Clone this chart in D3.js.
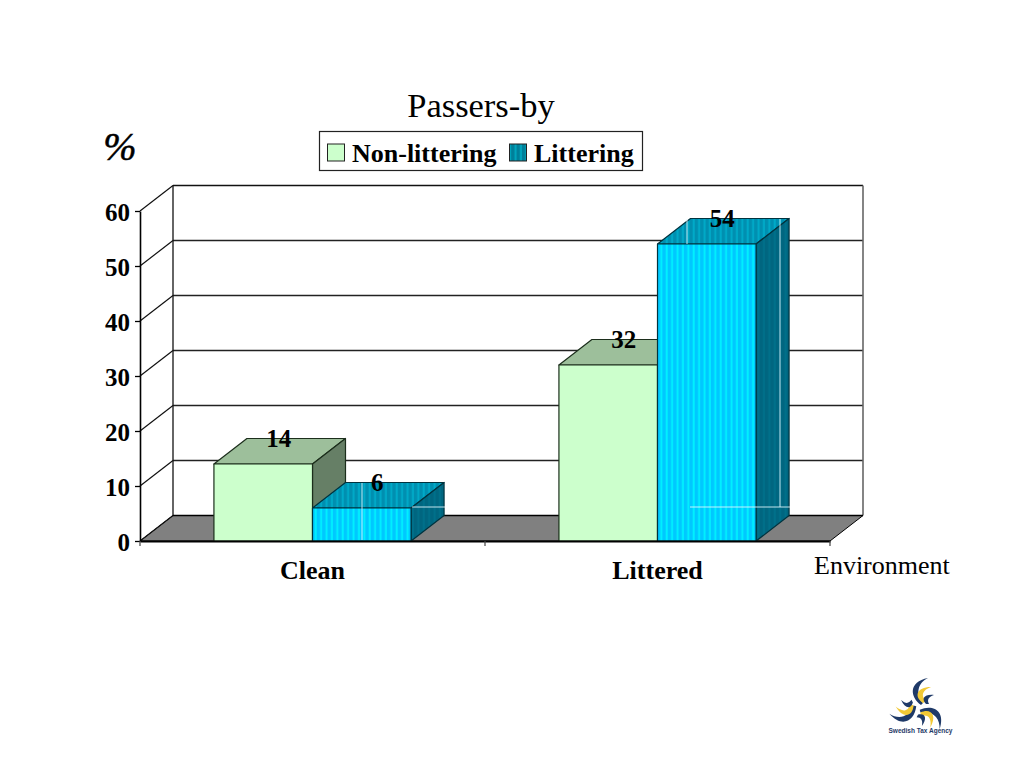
<!DOCTYPE html>
<html>
<head>
<meta charset="utf-8">
<script src="https://cdn.jsdelivr.net/npm/d3@7"></script>
<style>
  html, body { margin: 0; padding: 0; background: #fff; }
  svg { display: block; }
  text { font-family: "Liberation Serif", serif; fill: #000; }
  .axis path, .axis line { stroke: #000; }
</style>
</head>
<body>
<div id="chart"></div>
<script>
// data
var categories = ['Clean', 'Littered'];
var seriesNames = ['Non-littering', 'Littering'];
var nonLittering = [14, 32];
var littering = [6, 54];
var yTicks = [0, 10, 20, 30, 40, 50, 60];

var svgWidth = 1024, svgHeight = 768;
var plotLeft = 140, plotRight = 830, plotBottom = 541, plotTop = 211;
var depthX = 33, depthY = 25.5;   // 3d offset of the back wall

var svg = d3.select('#chart').append('svg')
  .attr('width', svgWidth)
  .attr('height', svgHeight);

var x0 = d3.scaleBand().domain(categories).range([plotLeft, plotRight]);
var x1 = d3.scaleBand().domain(seriesNames)
  .range([0, x0.bandwidth()])
  .paddingInner(0)
  .paddingOuter(0.75);
var y = d3.scaleLinear().domain([0, 60]).range([plotBottom, plotTop]);

// striped fills for the Littering bars
var defs = svg.append('defs');
function stripes(id, base, light) {
  var p = defs.append('pattern')
    .attr('id', id)
    .attr('patternUnits', 'userSpaceOnUse')
    .attr('width', 5.4)
    .attr('height', 10);
  p.append('rect').attr('width', 5.4).attr('height', 10).attr('fill', base);
  p.append('rect').attr('x', 1.5).attr('width', 2).attr('height', 10).attr('fill', light);
}
stripes('frontStripe', '#00c8ff', '#00f0ff');
stripes('topStripe', '#008fb0', '#00aac8');
stripes('sideStripe', '#006680', '#00708a');
stripes('legendStripe', '#007f99', '#00a5bd');

function poly(pts) {
  return pts.map(function(p) { return p.join(','); }).join(' ');
}

// floor
svg.append('polygon')
  .attr('points', poly([[plotLeft, plotBottom], [plotLeft + depthX, plotBottom - depthY], [plotRight + depthX, plotBottom - depthY], [plotRight, plotBottom]]))
  .attr('fill', '#808080')
  .attr('stroke', '#000')
  .attr('stroke-width', 1);

// back wall + grid lines
svg.selectAll('.grid').data(yTicks.slice(1, -1)).enter().append('line')
  .attr('class', 'grid')
  .attr('x1', plotLeft + depthX).attr('x2', plotRight + depthX)
  .attr('y1', function(d) { return y(d) - depthY; })
  .attr('y2', function(d) { return y(d) - depthY; })
  .attr('stroke', '#222').attr('stroke-width', 1.3);

svg.append('line')
  .attr('x1', plotLeft + depthX).attr('x2', plotRight + depthX)
  .attr('y1', plotTop - depthY).attr('y2', plotTop - depthY)
  .attr('stroke', '#111').attr('stroke-width', 1.3);
svg.append('line')
  .attr('x1', plotLeft + depthX).attr('x2', plotLeft + depthX)
  .attr('y1', plotTop - depthY).attr('y2', plotBottom - depthY)
  .attr('stroke', '#111').attr('stroke-width', 1.3);
svg.append('line')
  .attr('x1', plotRight + depthX).attr('x2', plotRight + depthX)
  .attr('y1', plotTop - depthY).attr('y2', plotBottom - depthY)
  .attr('stroke', '#666').attr('stroke-width', 1.6);
svg.append('line')
  .attr('x1', plotLeft + depthX).attr('x2', plotRight + depthX)
  .attr('y1', plotBottom - depthY).attr('y2', plotBottom - depthY)
  .attr('stroke', '#000').attr('stroke-width', 1.6);

// left wall diagonals
svg.selectAll('.wall').data(yTicks).enter().append('line')
  .attr('class', 'wall')
  .attr('x1', plotLeft).attr('x2', plotLeft + depthX)
  .attr('y1', function(d) { return y(d); })
  .attr('y2', function(d) { return y(d) - depthY; })
  .attr('stroke', '#111').attr('stroke-width', 1.2);

// bars
function drawBar(cat, name, value, front, topFill, side, edge) {
  var bx = x0(cat) + x1(name);
  var w = x1.bandwidth();
  var by = y(value);
  var g = svg.append('g').attr('stroke', edge).attr('stroke-width', 1.2).attr('stroke-linejoin', 'round');
  g.append('polygon')
    .attr('points', poly([[bx, by], [bx + depthX, by - depthY], [bx + w + depthX, by - depthY], [bx + w, by]]))
    .attr('fill', topFill);
  g.append('polygon')
    .attr('points', poly([[bx + w, by], [bx + w + depthX, by - depthY], [bx + w + depthX, plotBottom - depthY], [bx + w, plotBottom]]))
    .attr('fill', side);
  g.append('rect')
    .attr('x', bx).attr('y', by)
    .attr('width', w).attr('height', plotBottom - by)
    .attr('fill', front);
}

categories.forEach(function(cat, i) {
  drawBar(cat, seriesNames[0], nonLittering[i], '#ccffcc', '#9dbf9b', '#667f66', '#1c2e1c');
  drawBar(cat, seriesNames[1], littering[i], 'url(#frontStripe)', 'url(#topStripe)', 'url(#sideStripe)', '#00333f');
});

// thin light streaks that run through the striped bars in the original
var streaks = [
  [362, 483, 362, 540], [412, 507, 445, 507],
  [687, 219, 687, 244], [780, 219, 780, 507], [690, 507, 790, 507]
];
svg.selectAll('.streak').data(streaks).enter().append('line')
  .attr('class', 'streak')
  .attr('x1', function(d) { return d[0]; })
  .attr('y1', function(d) { return d[1]; })
  .attr('x2', function(d) { return d[2]; })
  .attr('y2', function(d) { return d[3]; })
  .attr('stroke', '#e4f9ff').attr('stroke-width', 1).attr('opacity', 0.85);

// y axis
var yAxis = svg.append('g')
  .attr('class', 'axis')
  .attr('transform', 'translate(' + plotLeft + ',0)')
  .call(d3.axisLeft(y).tickValues(yTicks).tickSize(5).tickPadding(5).tickSizeOuter(0));
yAxis.select('.domain').attr('stroke', '#555').attr('stroke-width', 1.6);
yAxis.selectAll('.tick line').attr('stroke', '#333').attr('stroke-width', 1.3);
yAxis.selectAll('text')
  .attr('font-family', '"Liberation Serif", serif')
  .attr('font-size', 25)
  .attr('font-weight', 'bold')
  .attr('dy', '0.38em');

// x axis, ticks between the categories
var xAxis = svg.append('g')
  .attr('class', 'axis')
  .attr('transform', 'translate(0,' + plotBottom + ')')
  .call(d3.axisBottom(x0).tickSize(0).tickPadding(20));
xAxis.select('.domain').attr('stroke-width', 2.2);
xAxis.selectAll('text')
  .attr('font-family', '"Liberation Serif", serif')
  .attr('font-size', 26)
  .attr('font-weight', 'bold')
  .attr('dx', function(d) { return x1(seriesNames[1]) - x0.bandwidth() / 2; });
svg.selectAll('.xtick').data([plotLeft, (plotLeft + plotRight) / 2, plotRight]).enter().append('line')
  .attr('class', 'xtick')
  .attr('x1', function(d) { return d; }).attr('x2', function(d) { return d; })
  .attr('y1', plotBottom).attr('y2', plotBottom + 5)
  .attr('stroke', '#444').attr('stroke-width', 1.2);

// value labels
function drawLabels(values, name) {
  svg.selectAll('.label-' + name).data(values).enter().append('text')
    .attr('class', 'label-' + name)
    .attr('x', function(d, i) { return x0(categories[i]) + x1(name) + x1.bandwidth() / 2 + depthX / 2 - 1; })
    .attr('y', function(d) { return y(d) - depthY + 8; })
    .attr('text-anchor', 'middle')
    .attr('font-size', 25)
    .attr('font-weight', 'bold')
    .text(function(d) { return d; });
}
drawLabels(nonLittering, seriesNames[0]);
drawLabels(littering, seriesNames[1]);

// titles
svg.append('text').attr('x', 481).attr('y', 117).attr('text-anchor', 'middle').attr('font-size', 34.5).text('Passers-by');
svg.append('text').attr('x', 120).attr('y', 160).attr('text-anchor', 'middle').attr('font-size', 40).attr('font-style', 'italic').attr('stroke', '#000').attr('stroke-width', 0.5).text('%');
svg.append('text').attr('x', 814).attr('y', 574).attr('font-size', 26).text('Environment');

// legend
var legend = svg.append('g');
legend.append('rect')
  .attr('x', 319.5).attr('y', 131.5).attr('width', 323).attr('height', 39)
  .attr('fill', '#fff').attr('stroke', '#222').attr('stroke-width', 1.2);
legend.append('rect')
  .attr('x', 327.5).attr('y', 144).attr('width', 17).attr('height', 17)
  .attr('fill', '#ccffcc').attr('stroke', '#222');
legend.append('text').attr('x', 352).attr('y', 162).attr('font-size', 26).attr('font-weight', 'bold').text(seriesNames[0]);
legend.append('rect')
  .attr('x', 509.5).attr('y', 144).attr('width', 17).attr('height', 17)
  .attr('fill', 'url(#legendStripe)').attr('stroke', '#222');
legend.append('text').attr('x', 534).attr('y', 162).attr('font-size', 26).attr('font-weight', 'bold').text(seriesNames[1]);

// agency logo, three swirl arms of navy and yellow blades
var logo = svg.append('g').attr('transform', 'translate(919,707)');
var blades = [
  { d: 'M2,-2 C-9,-10 -11,-25 9,-29 C-1,-24 -4,-14 4,-4 Z', fill: '#1f3a68' },
  { d: 'M4,-4 C-5,-10 -3,-20 12,-20 C4,-17 1,-12 7,-6 Z', fill: '#f2c935' },
  { d: 'M7,-3 C2,-8 5,-13 15,-12 C9,-10 8,-7 10,-3 Z', fill: '#1f3a68' }
];
[0, 120, 240].forEach(function(angle) {
  var arm = logo.append('g').attr('transform', 'rotate(' + angle + ')');
  blades.forEach(function(b) {
    arm.append('path').attr('d', b.d).attr('fill', b.fill);
  });
});
svg.append('text')
  .attr('x', 920.5).attr('y', 733)
  .attr('text-anchor', 'middle')
  .style('font-family', '"Liberation Sans", sans-serif')
  .style('fill', '#1f3a68')
  .attr('font-size', 6.5)
  .attr('font-weight', 'bold')
  .text('Swedish Tax Agency');
</script>
</body>
</html>
